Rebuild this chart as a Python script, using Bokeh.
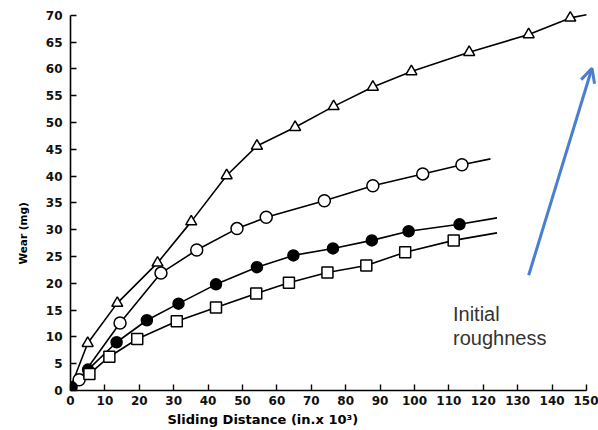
from bokeh.plotting import figure
from bokeh.models import Range1d, FixedTicker, Title, Arrow, OpenHead, ColumnDataSource
from bokeh.core.properties import value
from bokeh.embed import file_html
from bokeh.resources import INLINE

# ---- data ----
x_ticks = list(range(0, 151, 10))
y_ticks = list(range(0, 71, 5))

# open triangles
tri_x = [5.0, 13.6, 25.3, 35.1, 45.4, 54.2, 65.3, 76.5, 87.9, 99.1, 115.9, 133.2, 145.3]
tri_y = [8.8, 16.3, 23.8, 31.5, 40.1, 45.6, 49.1, 53.0, 56.6, 59.5, 63.1, 66.4, 69.5]
tri_line_x = [0.0] + tri_x + [150.0]
tri_line_y = [0.5] + tri_y + [70.1]

# open circles
oc_x = [2.5, 14.4, 26.3, 36.7, 48.4, 56.9, 73.8, 87.9, 102.4, 113.8]
oc_y = [2.0, 12.6, 21.9, 26.2, 30.2, 32.3, 35.4, 38.2, 40.4, 42.1]
oc_line_x = [0.0] + oc_x + [122.1]
oc_line_y = [0.5] + oc_y + [43.2]

# filled circles
fc_x = [0.3, 5.1, 13.4, 22.2, 31.4, 42.3, 54.2, 64.8, 76.3, 87.6, 98.3, 113.1]
fc_y = [0.6, 3.9, 9.0, 13.1, 16.2, 19.8, 23.0, 25.2, 26.5, 28.0, 29.7, 31.0]
fc_line_x = [0.0] + fc_x + [124.0]
fc_line_y = [0.5] + fc_y + [32.2]

# open squares
sq_x = [5.5, 11.3, 19.4, 30.9, 42.3, 54.0, 63.5, 74.7, 86.0, 97.3, 111.4]
sq_y = [3.1, 6.3, 9.6, 12.9, 15.5, 18.1, 20.1, 22.0, 23.3, 25.8, 28.0]
sq_line_x = [0.0] + sq_x + [124.0]
sq_line_y = [0.5] + sq_y + [29.4]

annotation_lines = ["Initial", "roughness"]
x_title = "Sliding Distance (in.x 10\u00b3)"
y_title = "Wear (mg)"

# ---- figure ----
p = figure(width=598, height=430, x_range=Range1d(0, 153.5), y_range=Range1d(0, 72),
           output_backend="svg", toolbar_location=None,
           min_border_left=70, min_border_right=0, min_border_top=4, min_border_bottom=40)
p.outline_line_color = None
p.xgrid.visible = False
p.ygrid.visible = False
p.background_fill_color = "white"
p.border_fill_color = "white"

for ax, ticks, bnd in ((p.xaxis[0], x_ticks, (0, 150)), (p.yaxis[0], y_ticks, (0, 70))):
    ax.ticker = FixedTicker(ticks=ticks)
    ax.bounds = bnd
    ax.axis_line_color = "black"
    ax.axis_line_width = 1.6
    ax.major_tick_in = 6
    ax.major_tick_out = 0
    ax.major_tick_line_width = 1.4
    ax.major_tick_line_color = "black"
    ax.minor_tick_line_color = None
    ax.major_label_text_font = "DejaVu Sans"
    ax.major_label_text_font_style = "bold"
    ax.major_label_text_font_size = "12px"
    ax.major_label_text_color = "#111111"
p.xaxis.major_label_standoff = 5
p.yaxis.major_label_standoff = 8

line_kw = dict(line_color="black", line_width=1.6)
mk_kw = dict(line_color="black", line_width=1.5)

p.line(tri_line_x, tri_line_y, **line_kw)
p.line(oc_line_x, oc_line_y, **line_kw)
p.line(fc_line_x, fc_line_y, **line_kw)
p.line(sq_line_x, sq_line_y, **line_kw)

p.scatter(tri_x, tri_y, marker="triangle", size=11, fill_color="white", **mk_kw)
p.scatter(oc_x, oc_y, marker="circle", size=12, fill_color="white", **mk_kw)
p.scatter(fc_x, fc_y, marker="circle", size=11, fill_color="black", **mk_kw)
p.scatter(sq_x, sq_y, marker="square", size=11, fill_color="white", **mk_kw)

# blue arrow
p.add_layout(Arrow(end=OpenHead(size=14, line_color="#4a7fd0", line_width=3),
                   x_start=133.2, y_start=21.5, x_end=151.6, y_end=60.1,
                   line_color="#4a7fd0", line_width=3))

# annotation text
src = ColumnDataSource(dict(x=[111.2, 111.2], y=[14.2, 9.7], t=annotation_lines))
p.text(x="x", y="y", text="t", source=src, text_font=value("Liberation Sans"),
       text_font_size="20px", text_color="#333333", text_align="left",
       text_baseline="alphabetic")

# axis titles
p.add_layout(Title(text=x_title, align="left", offset=97, standoff=5,
                   text_font="DejaVu Sans", text_font_style="bold",
                   text_font_size="13px", text_color="black"), "below")
p.add_layout(Title(text=y_title, align="left", offset=126, standoff=28,
                   text_font="DejaVu Sans", text_font_style="bold",
                   text_font_size="10.5px", text_color="black"), "left")

open("out.html", "w").write(file_html(p, INLINE))
